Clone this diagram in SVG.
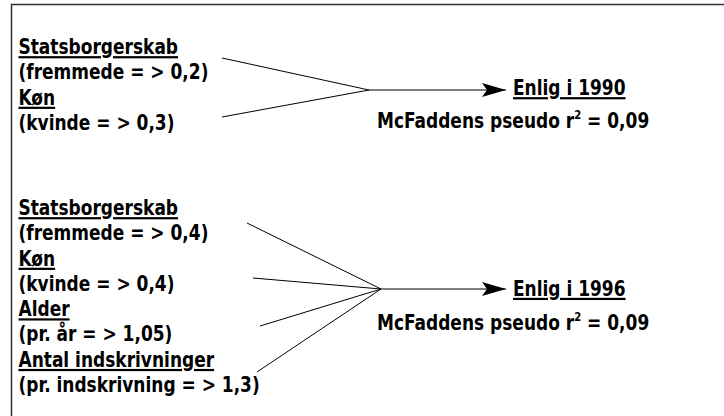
<svg xmlns="http://www.w3.org/2000/svg" width="724" height="416" viewBox="0 0 724 416">
<style>
text{font-family:"DejaVu Sans Condensed","DejaVu Sans",sans-serif;font-size:22px;font-weight:bold;fill:#000}
.u{text-decoration:underline}
.c{stroke:#000;stroke-width:1;fill:none}
</style>
<defs>
<marker id="ah" markerWidth="24" markerHeight="14" refX="24" refY="7" orient="auto" markerUnits="userSpaceOnUse">
<path d="M0,0 L24,7 L0,14 L5,7 Z" fill="#000"/>
</marker>
</defs>
<rect width="724" height="416" fill="#fff"/>
<path d="M11.5,416 V4.5 H724" fill="none" stroke="#333" stroke-width="1.5"/>
<g id="connectors">
<line class="c" x1="222" y1="58" x2="369" y2="90"/>
<line class="c" x1="222" y1="117" x2="369" y2="90"/>
<line class="c" x1="369" y1="90" x2="506" y2="90" marker-end="url(#ah)"/>
<line class="c" x1="247" y1="223" x2="381" y2="289"/>
<line class="c" x1="253" y1="278" x2="381" y2="289"/>
<line class="c" x1="260" y1="326" x2="381" y2="289"/>
<line class="c" x1="257" y1="372" x2="381" y2="289"/>
<line class="c" x1="381" y1="289" x2="506" y2="289" marker-end="url(#ah)"/>
</g>
<g id="pred1" transform="scale(0.86,1)">
<text x="21.5" y="54" class="u">Statsborgerskab</text>
<text x="21.5" y="79.3">(fremmede = &gt; 0,2)</text>
<text x="21.5" y="104.6" class="u">Køn</text>
<text x="21.5" y="129.9">(kvinde = &gt; 0,3)</text>
</g>
<g id="out1" transform="scale(0.86,1)">
<text x="596.5" y="95" class="u">Enlig i 1990</text>
<text x="438.4" y="128.5">McFaddens pseudo r<tspan font-size="13" dy="-9">2</tspan><tspan dy="9"> = 0,09</tspan></text>
</g>
<g id="pred2" transform="scale(0.86,1)">
<text x="21.5" y="215" class="u">Statsborgerskab</text>
<text x="21.5" y="240.3">(fremmede = &gt; 0,4)</text>
<text x="21.5" y="265.6" class="u">Køn</text>
<text x="21.5" y="290.9">(kvinde = &gt; 0,4)</text>
<text x="21.5" y="316.2" class="u">Alder</text>
<text x="21.5" y="341.5">(pr. år = &gt; 1,05)</text>
<text x="21.5" y="366.8" class="u">Antal indskrivninger</text>
<text x="21.5" y="392.1">(pr. indskrivning = &gt; 1,3)</text>
</g>
<g id="out2" transform="scale(0.86,1)">
<text x="596.5" y="295.7" class="u">Enlig i 1996</text>
<text x="438.4" y="330">McFaddens pseudo r<tspan font-size="13" dy="-9">2</tspan><tspan dy="9"> = 0,09</tspan></text>
</g>
</svg>
